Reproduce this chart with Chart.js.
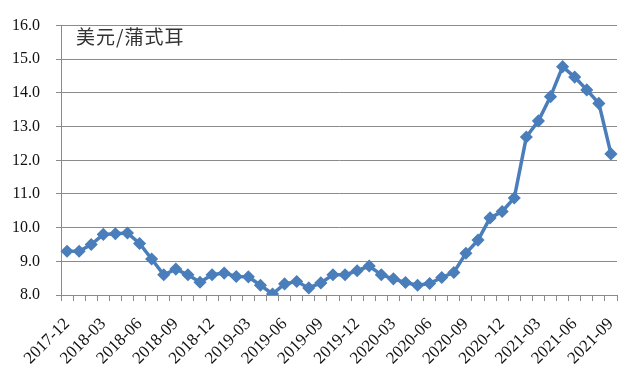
<!DOCTYPE html>
<html>
<head>
<meta charset="utf-8">
<script src="https://cdn.jsdelivr.net/npm/chart.js@4"></script>
<style>
  html, body { margin: 0; padding: 0; background: #fff; }
  #wrap { position: relative; width: 632px; height: 375px; }
  #unit {
    position: absolute; left: 76px; top: 26px;
    font-family: "Noto Sans CJK SC", sans-serif; font-size: 19px; line-height: 1;
    color: #333; letter-spacing: 1px;
  }
</style>
</head>
<body>
<div id="wrap">
  <canvas id="c" width="632" height="375"></canvas>
  <div id="unit">美元/蒲式耳</div>
</div>
<script>
// 月度价格，2017-12 至 2021-09（美元/蒲式耳）
const months = [
  '2017-12', '2018-01', '2018-02', '2018-03', '2018-04', '2018-05', '2018-06', '2018-07',
  '2018-08', '2018-09', '2018-10', '2018-11', '2018-12', '2019-01', '2019-02', '2019-03',
  '2019-04', '2019-05', '2019-06', '2019-07', '2019-08', '2019-09', '2019-10', '2019-11',
  '2019-12', '2020-01', '2020-02', '2020-03', '2020-04', '2020-05', '2020-06', '2020-07',
  '2020-08', '2020-09', '2020-10', '2020-11', '2020-12', '2021-01', '2021-02', '2021-03',
  '2021-04', '2021-05', '2021-06', '2021-07', '2021-08', '2021-09'
];
const prices = [
  9.30, 9.30, 9.50, 9.80, 9.82, 9.84, 9.53, 9.07, 8.60, 8.77,
  8.60, 8.38, 8.60, 8.65, 8.55, 8.54, 8.29, 8.03, 8.33, 8.40,
  8.21, 8.36, 8.60, 8.60, 8.72, 8.86, 8.60, 8.48, 8.37, 8.29,
  8.34, 8.52, 8.67, 9.24, 9.63, 10.29, 10.48, 10.88, 12.69, 13.17,
  13.89, 14.78, 14.47, 14.09, 13.69, 12.19
];
const yTicks = [8, 9, 10, 11, 12, 13, 14, 15, 16];

const axisGray = '#8a8a8a';
const blue = '#4a7ebb';
const serif = '"Liberation Serif", "Times New Roman", serif';

Chart.defaults.font.family = serif;

new Chart(document.getElementById('c').getContext('2d'), {
    type: 'line',
    data: {
        labels: months,
        datasets: [{
            label: '价格',
            data: prices,
            borderColor: blue,
            backgroundColor: blue,
            borderWidth: 3.5,
            pointStyle: 'rectRot',
            pointRadius: 5.5,
            pointBorderWidth: 1.5,
            pointBorderColor: blue,
            pointBackgroundColor: blue,
            tension: 0,
            fill: false,
        }]
    },
    options: {
        responsive: false,
        animation: false,
        devicePixelRatio: 1,
        layout: { padding: { top: 15, right: 15, left: 0, bottom: 0 } },
        plugins: { legend: { display: false }, tooltip: { enabled: false } },
        scales: {
            x: {
                type: 'category',
                offset: true,
                grid: { display: true, drawOnChartArea: false, drawTicks: true, tickLength: 6, color: axisGray, offset: true },
                border: { display: true, color: axisGray, width: 1 },
                ticks: {
                    autoSkip: false,
                    minRotation: 45,
                    maxRotation: 45,
                    padding: 13,
                    color: '#111',
                    font: { family: serif, size: 17 },
                    callback: function (v, i) { return i % 3 === 0 ? this.getLabelForValue(v) : ''; }
                },
                afterFit: s => {
                    s.height = 80;
                    s.paddingLeft = 0;
                    s.paddingRight = 0;
                }
            },
            y: {
                min: yTicks[0],
                max: yTicks[yTicks.length - 1],
                afterBuildTicks: s => { s.ticks = yTicks.map(v => ({ value: v })); },
                grid: { color: axisGray, tickLength: 5, drawTicks: true },
                border: { display: true, color: axisGray, width: 1 },
                ticks: {
                    padding: 16,
                    color: '#111',
                    font: { family: serif, size: 16 },
                    callback: v => v.toFixed(1)
                },
                afterFit: s => { s.width = 61; }
            }
        }
    }
});
</script>
</body>
</html>
